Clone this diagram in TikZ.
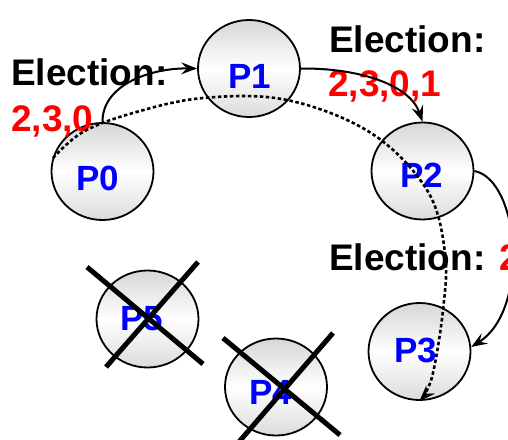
\documentclass[tikz,border=0pt]{standalone}
\usepackage{fontspec}
\setmainfont{Liberation Sans}
\usetikzlibrary{arrows.meta,shapes.geometric}
\begin{document}
\begin{tikzpicture}[x=1pt,y=-1pt,
  proc/.style={ellipse, draw=black, line width=1.8pt, minimum width=102pt, minimum height=97pt, inner sep=0pt,
    top color=black!16, bottom color=black!14, middle color=white},
  ptext/.style={text=blue, inner sep=0pt, font=\fontsize{35}{38}\selectfont\bfseries},
  big/.style={anchor=base west, inner sep=0pt, font=\fontsize{37}{40}\selectfont\bfseries},
  link/.style={line width=2pt, -{Stealth[length=16pt,width=12pt,inset=6pt]}},
  ring/.style={line width=2.6pt, dash pattern=on 3.5pt off 2.5pt, -{Stealth[length=16pt,width=12pt,inset=6pt,line width=0.5pt]}},
  cross/.style={line width=5pt}]
\useasboundingbox (0,0) rectangle (508,439);

% processes
\node[proc] (P0) at (102.5,171.5) {};
\node[proc] (P1) at (249,68.5) {};
\node[proc] (P2) at (422.5,171) {};
\node[proc] (P3) at (419.5,351.5) {};
\node[proc] (P4) at (276,387) {};
\node[proc] (P5) at (147.5,319) {};

\node[ptext] (t0) at (98,178) {P0};
\node[ptext] (t1) at (250,76) {P1};
\node[ptext] (t2) at (421.5,175) {P2};
\node[ptext] (t3) at (415.5,350.5) {P3};
\node[ptext] (t4) at (271,392.5) {P4};
\node[ptext] (t5) at (141.5,318.5) {P5};

% election messages
\node[big] (e1) at (11,85) {Election:};
\node[big, text=red] (v1) at (11,131) {2,3,0};
\node[big] (e2) at (329,52) {Election:};
\node[big, text=red] (v2) at (328,96) {2,3,0,1};
\node[big] (e3) at (329,270) {Election: \textcolor{red}{2}};

% message arrows
\draw[link] (P0.north) .. controls (102,85) and (150,68) .. (P1.west);
\draw[link] (P1.east) .. controls (360,68) and (410,85) .. (P2.north);
\draw[link] (P2.east) .. controls (520,180) and (530,310) .. (P3.5);

% dotted ring
\coordinate (rs) at (53,158);
\draw[ring] plot[smooth, tension=0.6] coordinates {(rs) (83,132) (133,113) (203,98) (287,100) (371,133) (427,190) (445,253) (443,310) (432,377) (P3.south)};

% crashed processes
\draw[cross] (87,267) -- (203,364);
\draw[cross] (198,262) -- (106,367);
\draw[cross] (223,338) -- (340,435);
\draw[cross] (333,333) -- (238,443);
\end{tikzpicture}
\end{document}
